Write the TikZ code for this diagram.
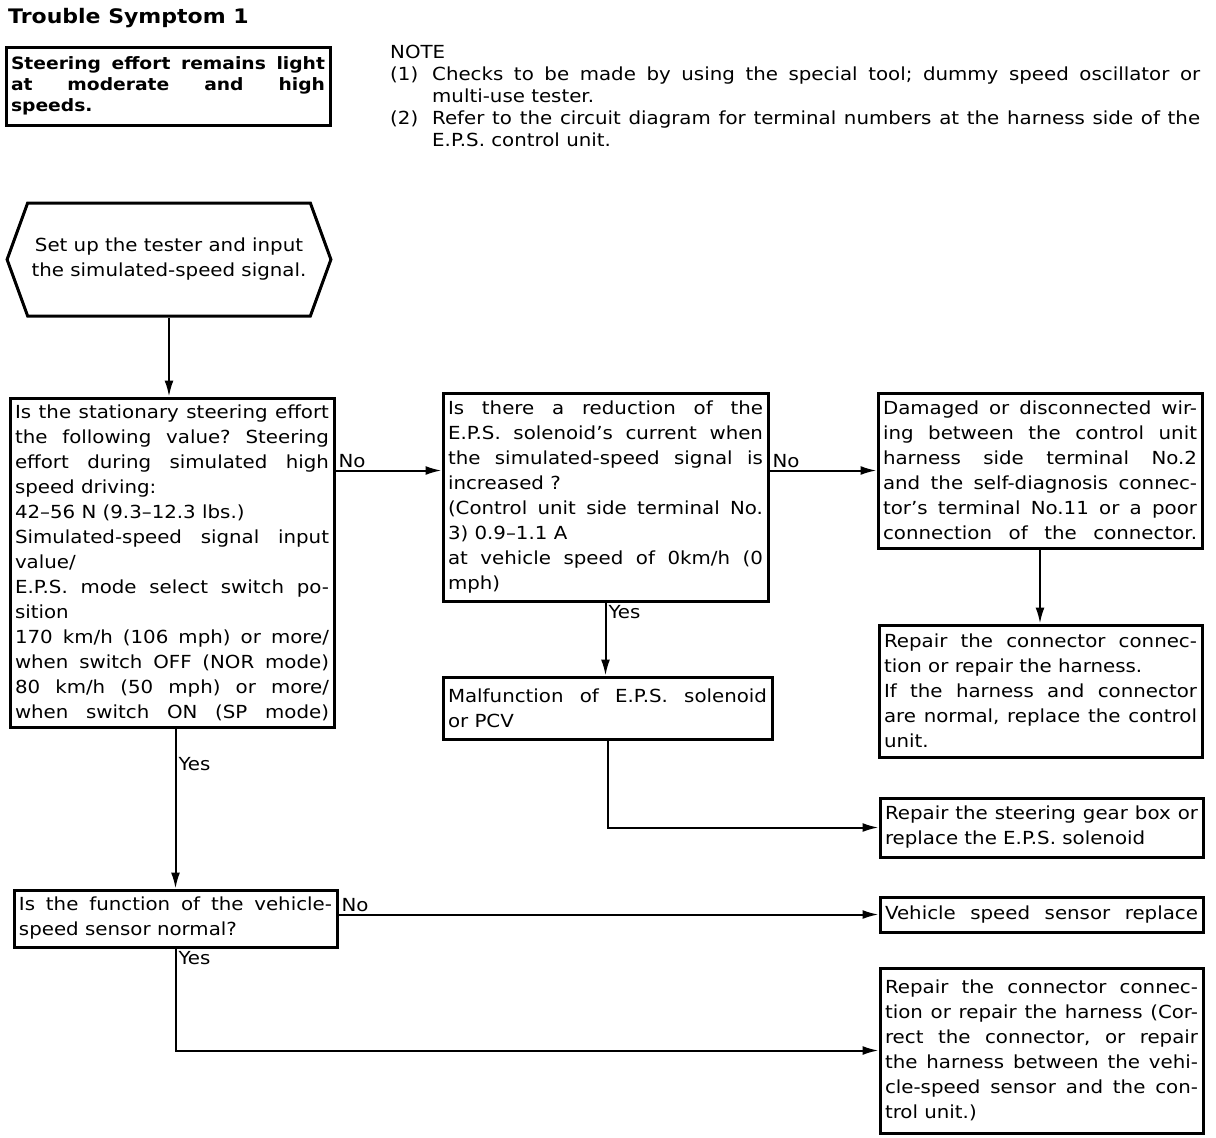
\documentclass[tikz,border=0pt]{standalone}
\usepackage{fontspec}
\setmainfont{DejaVu Sans}[FakeStretch=1.1]
\usetikzlibrary{positioning,arrows.meta,shapes.symbols}
\newlength{\basisflowchart}
\setlength{\basisflowchart}{10pt}
\newlength{\noteindent}
\setlength{\noteindent}{4.2\basisflowchart}
\newcommand{\flowtext}{\fontsize{18}{25}\selectfont\frenchspacing\hyphenpenalty=10000\relax\exhyphenpenalty=10000\relax}
\newcommand{\notetext}{\fontsize{18}{22}\selectfont\frenchspacing}
\newcommand{\noteitem}[1]{\par\noindent\hangindent=\noteindent\hangafter=1\relax\hbox to \noteindent{#1\hfil}}
\tikzset{
	flowbox/.style={draw, line width=0.3\basisflowchart, inner xsep=0.4\basisflowchart, inner ysep=0.2\basisflowchart, font=\flowtext, align=justify},
	flowline/.style={line width=0.2\basisflowchart},
	flowarrow/.style={flowline, -{Latex[length=16pt, width=9pt]}},
	flowlabel/.style={font=\flowtext, inner sep=0.2\basisflowchart},
}

\begin{document}
\begin{tikzpicture}
	\useasboundingbox (0,0) rectangle (121.6\basisflowchart,-113.8\basisflowchart);

    \draw (0.8\basisflowchart,-2.35\basisflowchart) 
		node[anchor=base west, inner sep=0, font=\fontsize{20}{24}\selectfont\bfseries] 
			(title) {Trouble Symptom 1};

    \draw (16.8\basisflowchart,-8.6\basisflowchart) 
		node[flowbox, minimum width=32.4\basisflowchart, minimum height=7.8\basisflowchart, text width=31.4\basisflowchart, font=\fontsize{17}{21}\selectfont\bfseries] 
			(symptom) {Steering effort remains light\linebreak
			at moderate and high\linebreak
			speeds.\par};

    \draw (39.0\basisflowchart,-4.45\basisflowchart) 
		node[anchor=north west, inner sep=0, text width=81\basisflowchart, font=\notetext, align=justify] 
			(note) {\noindent NOTE
			\noteitem{(1)}Checks to be made by using the special tool; dummy speed oscillator or\linebreak
			multi-use tester.
			\noteitem{(2)}Refer to the circuit diagram for terminal numbers at the harness side of the\linebreak
			E.P.S. control unit.\par};

    \draw (16.9\basisflowchart,-25.95\basisflowchart) 
		node[flowbox, signal, signal to=west and east, signal pointer angle=140, minimum width=32.2\basisflowchart, minimum height=11.3\basisflowchart, align=center] 
			(setup) {Set up the tester and input\\the simulated-speed signal.};

    \draw (17.2\basisflowchart,-56.25\basisflowchart) 
		node[flowbox, minimum width=32.4\basisflowchart, minimum height=32.9\basisflowchart, text width=31.4\basisflowchart] 
			(stationary) {\parfillskip=0pt Is the stationary steering effort\linebreak
			the following value? Steering\linebreak
			effort during simulated high\linebreak
			speed driving:\newline
			42--56 N (9.3--12.3 lbs.)\newline
			Simulated-speed signal input\linebreak
			value/\newline
			E.P.S. mode select switch po-\linebreak
			sition\newline
			170 km/h (106 mph) or more/\linebreak
			when switch OFF (NOR mode)\linebreak
			80 km/h (50 mph) or more/\linebreak
			when switch ON (SP mode)\par};

    \draw (60.55\basisflowchart,-49.7\basisflowchart) 
		node[flowbox, minimum width=32.5\basisflowchart, minimum height=20.8\basisflowchart, text width=31.5\basisflowchart] 
			(current) {Is there a reduction of the\linebreak
			E.P.S. solenoid's current when\linebreak
			the simulated-speed signal is\linebreak
			increased ?\newline
			(Control unit side terminal No.\linebreak
			3) 0.9--1.1 A\newline
			at vehicle speed of 0km/h (0\linebreak
			mph)\par};

    \draw (104.0\basisflowchart,-47.05\basisflowchart) 
		node[flowbox, minimum width=32.4\basisflowchart, minimum height=15.5\basisflowchart, text width=31.4\basisflowchart] 
			(wiring) {\parfillskip=0pt Damaged or disconnected wir-\linebreak
			ing between the control unit\linebreak
			harness side terminal No.2\linebreak
			and the self-diagnosis connec-\linebreak
			tor's terminal No.11 or a poor\linebreak
			connection of the connector.\par};

    \draw (104.05\basisflowchart,-69.1\basisflowchart) 
		node[flowbox, minimum width=32.3\basisflowchart, minimum height=13.2\basisflowchart, text width=31.3\basisflowchart] 
			(repairwiring) {Repair the connector connec-\linebreak
			tion or repair the harness.\newline
			If the harness and connector\linebreak
			are normal, replace the control\linebreak
			unit.\par};

    \draw (60.75\basisflowchart,-70.8\basisflowchart) 
		node[flowbox, minimum width=32.9\basisflowchart, minimum height=6.2\basisflowchart, text width=31.9\basisflowchart] 
			(solenoid) {Malfunction of E.P.S. solenoid\linebreak
			or PCV\par};

    \draw (104.15\basisflowchart,-82.75\basisflowchart) 
		node[flowbox, minimum width=32.3\basisflowchart, minimum height=5.9\basisflowchart, text width=31.3\basisflowchart] 
			(gearbox) {Repair the steering gear box or\linebreak
			replace the E.P.S. solenoid\par};

    \draw (17.55\basisflowchart,-91.85\basisflowchart) 
		node[flowbox, minimum width=32.3\basisflowchart, minimum height=5.7\basisflowchart, text width=31.3\basisflowchart] 
			(sensorcheck) {Is the function of the vehicle-\linebreak
			speed sensor normal?\par};

    \draw (104.15\basisflowchart,-91.45\basisflowchart) 
		node[flowbox, minimum width=32.3\basisflowchart, minimum height=3.5\basisflowchart, text width=31.3\basisflowchart] 
			(sensorreplace) {\parfillskip=0pt Vehicle speed sensor replace\par};

    \draw (104.15\basisflowchart,-105.05\basisflowchart) 
		node[flowbox, minimum width=32.3\basisflowchart, minimum height=16.5\basisflowchart, text width=31.3\basisflowchart] 
			(repairsensor) {Repair the connector connec-\linebreak
			tion or repair the harness (Cor-\linebreak
			rect the connector, or repair\linebreak
			the harness between the vehi-\linebreak
			cle-speed sensor and the con-\linebreak
			trol unit.)\par};

	% connectors
	\draw[flowarrow] (setup.south) -- (setup.south |- stationary.north);
	\draw[flowarrow] (stationary.east |- wiring.west) -- node[flowlabel, pos=0, anchor=south west] (no1) {No} (current.west |- wiring.west);
	\draw[flowarrow] (current.east |- wiring.west) -- node[flowlabel, pos=0, anchor=south west] (no2) {No} (wiring.west);
	\draw[flowarrow] (wiring.south) -- (wiring.south |- repairwiring.north);
	\draw[flowarrow] (current.south) -- node[flowlabel, pos=0, anchor=north west] (yes1) {Yes} (current.south |- solenoid.north);
	\draw[flowarrow] (solenoid.south) |- (gearbox.west);
	\draw[flowarrow] (stationary.south -| sensorcheck.north) -- node[flowlabel, pos=0.22, anchor=west] (yes2) {Yes} (sensorcheck.north);
	\draw[flowarrow] (sensorcheck.east |- sensorreplace.west) -- node[flowlabel, pos=0, anchor=south west] (no3) {No} (sensorreplace.west);
	\draw[flowarrow] (sensorcheck.south) |- node[flowlabel, pos=0, anchor=north west] (yes3) {Yes} (repairsensor.west);
\end{tikzpicture}
\end{document}
